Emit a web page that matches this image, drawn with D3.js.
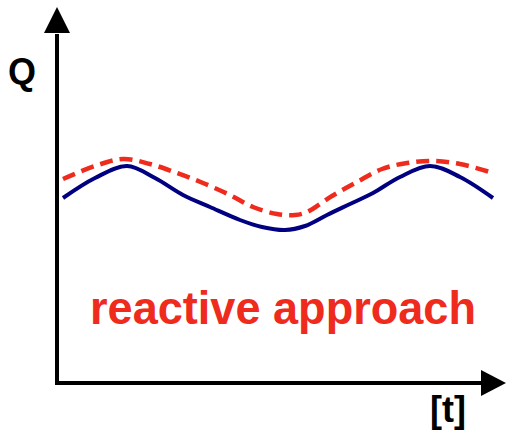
<!DOCTYPE html>
<html><head><meta charset="utf-8">
<script src="https://cdn.jsdelivr.net/npm/d3@7"></script>
<style>html,body{margin:0;padding:0;background:#fff}svg{display:block}</style>
</head><body>
<script>
// data (t in arbitrary time units, Q in arbitrary units)
const blueT = [6,38,70,98,126,153,183,205,228,248,270,293,316,343,373,403,436];
const blueQ = [185,205,217,205,188,176,163,156,153,157,168,179,190,206,217,206,185];
const redT  = [6,38,66,93,120,146,173,196,220,238,250,275,300,325,350,376,403,436];
const redQ  = [204,217,224,219,210,200,188,176,169,168,171,187,201,214,220,222,219,210];
const yLabel = "Q";
const xLabel = "[t]";
const caption = "reactive approach";

const W = 507, H = 430;
const svg = d3.select("body").append("svg").attr("width", W).attr("height", H);

const x = d3.scaleLinear().domain([0, 425]).range([57, 482]);
const y = d3.scaleLinear().domain([0, 351]).range([383, 32]);

// axes
svg.append("line").attr("x1", x(0)).attr("x2", x(0)).attr("y1", y(0) + 2).attr("y2", y(351) + 2)
  .attr("stroke", "#000").attr("stroke-width", 4);
svg.append("line").attr("x1", x(0) - 2).attr("x2", x(425)).attr("y1", y(0)).attr("y2", y(0))
  .attr("stroke", "#000").attr("stroke-width", 4);
svg.append("path").attr("d", `M${x(0)},7 L${x(0)-13},33 L${x(0)+13},33 Z`).attr("fill", "#000");
svg.append("path").attr("d", `M506,${y(0)} L481,${y(0)-13} L481,${y(0)+13} Z`).attr("fill", "#000");

const line = d3.line().x(d => x(d[0])).y(d => y(d[1])).curve(d3.curveCatmullRom.alpha(0.5));

svg.append("path").datum(blueT.map((t, i) => [t, blueQ[i]]))
  .attr("d", line).attr("fill", "none").attr("stroke", "#000080").attr("stroke-width", 4);
svg.append("path").datum(redT.map((t, i) => [t, redQ[i]]))
  .attr("d", line).attr("fill", "none").attr("stroke", "#ee2b1c").attr("stroke-width", 4.5)
  .attr("stroke-dasharray", "13,7");

const font = "'Liberation Sans', Arial, sans-serif";
svg.append("text").attr("x", 8).attr("y", 84).text(yLabel)
  .attr("font-family", font).attr("font-weight", "bold").attr("font-size", 36).attr("fill", "#000");
svg.append("text").attr("x", 430).attr("y", 422).text(xLabel)
  .attr("font-family", font).attr("font-weight", "bold").attr("font-size", 36).attr("fill", "#000");
svg.append("text").attr("x", 90).attr("y", 324).text(caption)
  .attr("font-family", font).attr("font-weight", "bold").attr("font-size", 47).attr("fill", "#ee2b1c")
  .attr("textLength", 386).attr("lengthAdjust", "spacingAndGlyphs");
</script>
</body></html>
